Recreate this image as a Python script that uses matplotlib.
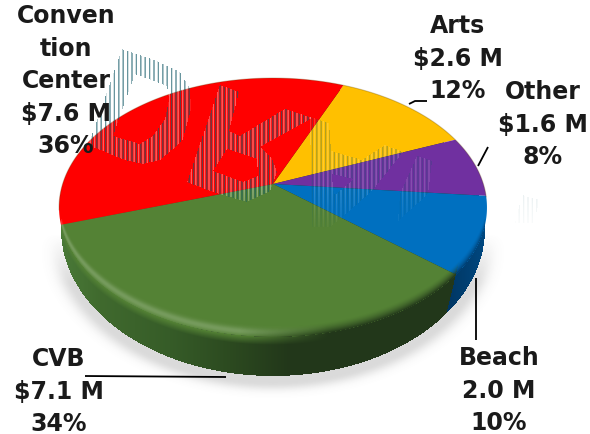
import numpy as np
import matplotlib
matplotlib.use('Agg')
import matplotlib.pyplot as plt
from matplotlib.path import Path

WIDTH, HEIGHT = 590, 435

# slices clockwise from the Arts wedge, in $M
names = ['Arts', 'Other', 'Beach', 'CVB', 'Convention Center']
amounts = [2.6, 1.6, 2.0, 7.1, 7.6]
colors = ['#FFC000', '#7030A0', '#0070C0', '#548235', '#FF0000']
START_DEG = 23.0

label_lines = [
    ['Arts', '$2.6 M', '12%'],
    ['Other', '$1.6 M', '8%'],
    ['Beach', '2.0 M', '10%'],
    ['CVB', '$7.1 M', '34%'],
    ['Conven', 'tion', 'Center', '$7.6 M', '36%'],
]
label_x = [458, 543, 499, 59, 66]
label_top = [33, 99, 365, 366, 23]
LINE_GAP = 32.6

leaders = [
    ([409, 415, 427], [105, 102, 102]),
    ([478, 488], [167, 148]),
    ([476, 476], [279, 341]),
    ([85, 226], [377, 378]),
]

# tilted disc: perspective puts the pie centre above the middle of the ellipse
CX, CY_APEX = 273.0, 185.0
K, A, B = 0.1815, 210.4, 125.2
TOP_CY, TOP_RX, TOP_RY = 208.0, 214.0, 130.0
BOT_CY, BOT_RX, BOT_RY = 230.0, 212.0, 147.0


def rim_point(theta):
    s, c = np.cos(theta), np.sin(theta)
    return CX + A * c / (1 + K * s), CY_APEX - B * s / (1 + K * s)


def wedge_outline(a0, a1):
    t = np.linspace(a0, a1, 120)
    x, y = rim_point(t)
    return np.r_[CX, x], np.r_[CY_APEX, y]


def stripe_mask(outer, holes=()):
    m = Path(outer).contains_points(GRID).reshape(HEIGHT, WIDTH)
    for h in holes:
        m &= ~Path(h).contains_points(GRID).reshape(HEIGHT, WIDTH)
    return m


xx, yy = np.meshgrid(np.arange(WIDTH) + .5, np.arange(HEIGHT) + .5)
GRID = np.c_[xx.ravel(), yy.ravel()]
EXTENT = (0, WIDTH, HEIGHT, 0)

fig = plt.figure(figsize=(WIDTH / 100, HEIGHT / 100), dpi=100)
ax = fig.add_axes([0, 0, 1, 1])
ax.set_axis_off()

# soft shadow under the disc
r = np.hypot((xx - CX) / BOT_RX, (yy - BOT_CY - 6) / BOT_RY)
dist = np.clip(r - 1, 0, None) * BOT_RY
shade = np.zeros((HEIGHT, WIDTH, 4))
shade[..., :3] = .45
shade[..., 3] = .26 * np.exp(-(dist / 8.0) ** 2) * np.clip((yy - 235) / 50, 0, 1)
ax.imshow(shade, extent=EXTENT, aspect='auto', zorder=1)

fractions = np.array(amounts) / sum(amounts)
edges = np.radians(START_DEG + 360 * np.r_[0, np.cumsum(fractions)])

# vertical distance up from the front rim of the top face
dx_top = np.clip((xx - CX) / TOP_RX, -1, 1)
rim_y = TOP_CY + TOP_RY * np.sqrt(1 - dx_top ** 2)
d = rim_y - yy

# side wall, green to the left of the seam and blue to the right
seam_x, seam_y = rim_point(edges[3])
in_bottom = np.hypot((xx - CX) / BOT_RX, (yy - BOT_CY) / BOT_RY) <= 1
left_of_seam = xx < seam_x - (yy - seam_y) * 11 / 45

wall_stops_x = [60, 100, 170, 230, 290, 480]
wall_r = [74, 64, 54, 44, 34, 34]
wall_g = [122, 106, 92, 74, 55, 55]
wall_b = [56, 46, 40, 32, 26, 26]
wall = np.zeros((HEIGHT, WIDTH, 4))
wall[..., 0] = np.interp(xx, wall_stops_x, wall_r) / 255
wall[..., 1] = np.interp(xx, wall_stops_x, wall_g) / 255
wall[..., 2] = np.interp(xx, wall_stops_x, wall_b) / 255
blue = left_of_seam == False
wall[..., 0][blue] = 0
wall[..., 1][blue] = np.interp(xx[blue], [440, 485], [50, 72]) / 255
wall[..., 2][blue] = np.interp(xx[blue], [440, 485], [92, 128]) / 255
wall[..., 3] = in_bottom
ax.imshow(wall, extent=EXTENT, aspect='auto', zorder=2)

# top face
for i, col in enumerate(colors):
    wx, wy = wedge_outline(edges[i], edges[i + 1])
    ax.fill(wx, wy, color=col, lw=0, zorder=3)

# rounded edge: light along the front left, wall colour towards the right
to_dark = np.clip((xx - 240) / 90, 0, 1)
fade_in = np.clip((yy - 205) / 20, 0, 1)
on_face = d >= 0
light = .2 * np.exp(-((d - 4.5) / 4.0) ** 2) * (1 - to_dark)
band = np.zeros((HEIGHT, WIDTH, 4))
band[..., :3] = 1
band[..., 3] = light * fade_in * on_face * in_bottom
ax.imshow(band, extent=EXTENT, aspect='auto', zorder=4)

falloff = wall.copy()
falloff[..., 3] = .95 * np.clip(1 - d / 11, 0, 1) ** 1.6 * to_dark * fade_in * on_face * in_bottom
ax.imshow(falloff, extent=EXTENT, aspect='auto', zorder=4)

# wall picks up the face colour just under the rim
glow = np.zeros((HEIGHT, WIDTH, 4))
glow[..., 0] = np.where(left_of_seam, 0x54, 0x00) / 255
glow[..., 1] = np.where(left_of_seam, 0x82, 0x70) / 255
glow[..., 2] = np.where(left_of_seam, 0x35, 0xC0) / 255
glow[..., 3] = np.clip(1 + d / 8, 0, 1) * (d < 0) * in_bottom * fade_in * (1 - to_dark)
ax.imshow(glow, extent=EXTENT, aspect='auto', zorder=4)

# thin edge round the back of the disc
back = np.linspace(-np.pi / 2 - .2, np.pi / 2 + .1, 200)
ax.plot(*rim_point(back), color='#5a4000', alpha=.28, lw=.8, zorder=4)

# striped logo laid over the chart
letter_d = [(122, 50), (157, 62), (180, 73), (190, 90), (191, 110), (183, 140), (173, 150),
            (160, 161), (143, 165), (125, 161), (93, 148), (88, 146), (93, 133)]
letter_d_hole = [(135, 75), (167, 87), (169, 100), (165, 120), (153, 137), (140, 145),
                 (113, 137)]
letter_b = [(220, 86), (239, 93), (229, 132), (240, 137), (285, 110), (312, 119), (260, 148),
            (272, 160), (277, 173), (270, 192), (247, 203), (213, 193), (187, 183)]
letter_b_hole = [(227, 150), (257, 160), (258, 177), (243, 183), (213, 172)]
letter_k = [(310, 118), (329, 124), (331, 152), (362, 161), (385, 146), (403, 153),
            (372, 192), (347, 214), (330, 228), (312, 228)]
letter_k_hole = [(332, 175), (354, 180), (335, 196), (333, 190)]
letter_tail = [(417, 157), (432, 162), (428, 195), (398, 222), (400, 195)]
faint_mark = [(522, 196), (540, 201), (533, 224), (515, 224)]

logo_parts = [
    (letter_d, [letter_d_hole], 1.0),
    (letter_b, [letter_b_hole], 1.0),
    (letter_k, [letter_k_hole], .5),
    (letter_tail, [], .4),
    (faint_mark, [], .16),
]
wave = np.cos(2 * np.pi * xx / 4.4)
fade_low = np.clip((238 - yy) / 50, 0, 1)
for outer, holes, strength in logo_parts:
    mask = stripe_mask(outer, holes)
    ink = np.zeros((HEIGHT, WIDTH, 4))
    ink[..., 0] = np.where(wave > 0, 20 / 255, 1)
    ink[..., 1] = np.where(wave > 0, 90 / 255, 1)
    ink[..., 2] = np.where(wave > 0, 105 / 255, 1)
    ink[..., 3] = np.where(wave > 0, .65 * wave, .38 * -wave) * mask * strength * fade_low
    ax.imshow(ink, extent=EXTENT, aspect='auto', zorder=5)

for lx, ly in leaders:
    ax.plot(lx, ly, color='black', lw=1.3, solid_capstyle='butt', zorder=6)

for lines, x, top in zip(label_lines, label_x, label_top):
    for j, line in enumerate(lines):
        ax.text(x, top + j * LINE_GAP, line, ha='center', va='baseline', color='#1a1a1a',
                fontsize=17, fontweight='bold', family='DejaVu Sans', zorder=7)

ax.set_xlim(0, WIDTH)
ax.set_ylim(HEIGHT, 0)
fig.savefig('out.png', dpi=100)
